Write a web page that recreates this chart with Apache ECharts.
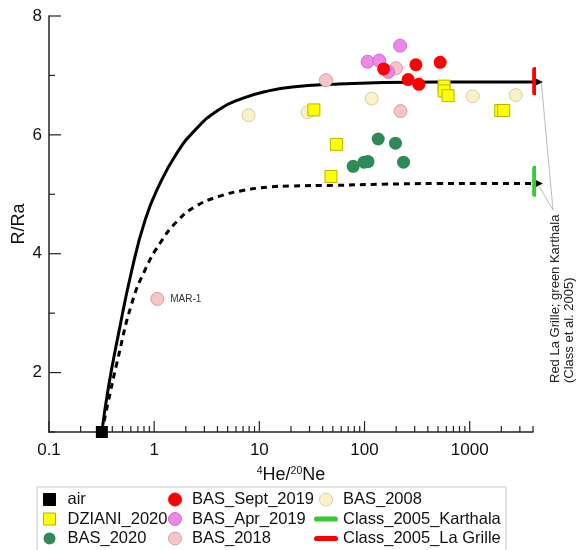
<!DOCTYPE html>
<html>
<head>
<meta charset="utf-8">
<script src="https://cdn.jsdelivr.net/npm/echarts@6/dist/echarts.min.js"></script>
<style>
html, body { margin: 0; padding: 0; background: #fff; }
#main { width: 576px; height: 550px; }
</style>
</head>
<body>
<div id="main"></div>
<script>
// values (x = 4He/20Ne, y = R/Ra)
var air = [[0.318, 1]];
var dziani2020 = [[33, 6.42], [54, 5.84], [48, 5.3], [571, 6.82], [571, 6.74], [623, 6.66], [1973, 6.41], [2108, 6.41]];
var bas2020 = [[135, 5.93], [197, 5.86], [78, 5.47], [99, 5.54], [108, 5.55], [235, 5.54]];
var basSept2019 = [[152, 7.11], [308, 7.18], [524, 7.22], [260, 6.93], [329, 6.85]];
var basApr2019 = [[218, 7.5], [107, 7.23], [138, 7.25], [168, 7.06]];
var bas2018 = [[43, 6.92], [199, 7.12], [220, 6.4]];
var mar1 = [1.07, 3.24];
var bas2008 = [[7.9, 6.33], [28.8, 6.38], [117, 6.61], [1070, 6.65], [2740, 6.67]];

// mixing curves
var solidX = [0.318, 0.368, 0.452, 0.614, 0.821, 1.10, 1.64, 2.45, 4.08, 6.81, 12.2, 21.8, 50, 150, 500, 1500, 4500];
var solidY = [1, 1.76, 2.60, 3.73, 4.57, 5.13, 5.69, 6.08, 6.42, 6.61, 6.74, 6.81, 6.85, 6.88, 6.89, 6.89, 6.89];
var dashX = [0.318, 0.363, 0.442, 0.614, 0.821, 1.14, 1.64, 2.45, 4.08, 6.81, 12.2, 20.3, 50, 150, 500, 1500, 4500];
var dashY = [1, 1.48, 2.16, 3.17, 3.73, 4.18, 4.54, 4.79, 4.96, 5.06, 5.12, 5.14, 5.15, 5.17, 5.18, 5.18, 5.18];

// Class et al. 2005 ranges
var classX = 4150;
var karthala = [5.0, 5.44];
var laGrille = [6.71, 7.10];

// axis ticks
var xMajor = [0.1, 1, 10, 100, 1000];
var xMinor = [0.2, 0.3, 0.4, 0.5, 0.6, 0.7, 0.8, 0.9, 2, 3, 4, 5, 6, 7, 8, 9, 20, 30, 40, 50, 60, 70, 80, 90,
	200, 300, 400, 500, 600, 700, 800, 900, 2000, 3000, 4000];
var yMajor = [2, 4, 6, 8];
var yMinor = [1, 3, 5, 7];

var FONT = 'Arial, "Liberation Sans", sans-serif';
var LINE_ICON = 'path://M2.5,0L20.5,0A2.5,2.5,0,0,1,20.5,5L2.5,5A2.5,2.5,0,0,1,2.5,0Z';
var myChart = echarts.init(document.getElementById('main'));

function curve(xs, ys) {
	var out = [];
	for (var i = 0; i < xs.length; i++) {
		if (i == xs.length - 1) {
			out.push({ value: [xs[i], ys[i]], symbol: 'triangle', symbolRotate: -90, symbolSize: 9 });
		} else {
			out.push([xs[i], ys[i]]);
		}
	}
	return out;
}

function scatter(name, data, symbol, size, color, border, z) {
	return {
		name: name,
		type: 'scatter',
		data: data,
		symbol: symbol,
		symbolSize: size,
		z: z,
		itemStyle: {
			color: color,
			borderColor: border || color,
			borderWidth: border ? 1 : 0,
			opacity: 1
		}
	};
}

// draws one tick: [x, y, horizontal?, length]
function renderTick(params, api) {
	var p = api.coord([api.value(0), api.value(1)]);
	var horiz = api.value(2) == 1;
	var l = api.value(3);
	return {
		type: 'line',
		shape: horiz ? { x1: p[0], y1: p[1], x2: p[0] + l, y2: p[1] } : { x1: p[0], y1: p[1], x2: p[0], y2: p[1] - l },
		style: { stroke: '#222', lineWidth: 1.2 }
	};
}

var tickData = [];
xMajor.forEach(function(v) { tickData.push([v, 1, 0, 11]); });
xMinor.forEach(function(v) { tickData.push([v, 1, 0, 6]); });
yMajor.forEach(function(v) { tickData.push([0.1, v, 1, 12]); });
yMinor.forEach(function(v) { tickData.push([0.1, v, 1, 6]); });

var bas2018All = bas2018.slice();
bas2018All.push({
	value: mar1,
	label: { show: true, formatter: 'MAR-1', position: 'right', distance: 6, fontSize: 10, color: '#333', fontFamily: FONT }
});

var legendText = { fontSize: 16.5, color: '#111', lineHeight: 17, fontFamily: FONT };

var option = {
	animation: false,
	textStyle: { fontFamily: FONT },
	grid: { left: 49, right: 43, top: 16, bottom: 118, outerBoundsMode: 'none', containLabel: false },
	xAxis: {
		type: 'log',
		logBase: 10,
		min: 0.1,
		max: 4000,
		name: '{s|4}He/{s|20}Ne',
		nameLocation: 'middle',
		nameGap: 34,
		nameMoveOverlap: false,
		nameTextStyle: {
			fontSize: 18, color: '#111', fontFamily: FONT,
			rich: { s: { fontSize: 10.5, verticalAlign: 'top', padding: [0, 0, 7, 0], fontFamily: FONT, color: '#111' } }
		},
		axisLine: { show: true, lineStyle: { color: '#222', width: 1.5 } },
		axisTick: { show: false },
		splitLine: { show: false },
		axisLabel: {
			fontSize: 17, color: '#111', margin: 10, showMaxLabel: false,
			formatter: function(v) {
				for (var i = 0; i < xMajor.length; i++) {
					if (Math.abs(v - xMajor[i]) / xMajor[i] < 1e-6) return String(xMajor[i]);
				}
				return '';
			}
		}
	},
	yAxis: {
		type: 'value',
		min: 1,
		max: 8,
		interval: 1,
		name: 'R/Ra',
		nameLocation: 'middle',
		nameGap: 21,
		nameMoveOverlap: false,
		nameTextStyle: { fontSize: 18, color: '#111', fontFamily: FONT },
		axisLine: { show: true, lineStyle: { color: '#222', width: 1.5 } },
		axisTick: { show: false },
		splitLine: { show: false },
		axisLabel: {
			fontSize: 17, color: '#111', margin: 7,
			formatter: function(v) { return yMajor.indexOf(v) >= 0 ? String(v) : ''; }
		}
	},
	legend: [{
		orient: 'vertical', left: 43, top: 491, padding: 0,
		itemWidth: 12, itemHeight: 12, itemGap: 2.5,
		itemStyle: { borderWidth: 1 },
		textStyle: { fontSize: 16.5, color: '#111', lineHeight: 17, fontFamily: FONT, padding: [0, 0, 0, 7] },
		data: ['air', 'DZIANI_2020', { name: 'BAS_2020', itemStyle: { borderWidth: 0 } }]
	}, {
		orient: 'vertical', left: 168, top: 491, padding: 0,
		itemWidth: 24, itemHeight: 13, itemGap: 2.5,
		itemStyle: { borderWidth: 1 },
		textStyle: legendText,
		data: ['BAS_Sept_2019', 'BAS_Apr_2019', 'BAS_2018']
	}, {
		orient: 'vertical', left: 314, top: 491, padding: 0,
		itemWidth: 24, itemHeight: 13, itemGap: 2.5,
		itemStyle: { borderWidth: 0 },
		textStyle: legendText,
		data: [{ name: 'BAS_2008', itemStyle: { borderWidth: 1 } },
			{ name: 'Class_2005_Karthala', icon: LINE_ICON },
			{ name: 'Class_2005_La Grille', icon: LINE_ICON }]
	}],
	series: [{
		name: 'ticks',
		type: 'custom',
		renderItem: renderTick,
		data: tickData,
		clip: false,
		silent: true,
		z: 1
	}, {
		name: 'mix_solid',
		type: 'line',
		data: curve(solidX, solidY),
		symbol: 'none',
		smooth: 0.5,
		clip: false,
		z: 2,
		lineStyle: { color: '#000', width: 3 },
		itemStyle: { color: '#000' }
	}, {
		name: 'mix_dash',
		type: 'line',
		data: curve(dashX, dashY),
		symbol: 'none',
		smooth: 0.5,
		clip: false,
		z: 2,
		lineStyle: { color: '#000', width: 3, type: [6, 5] },
		itemStyle: { color: '#000' }
	}, {
		name: 'Class_2005_Karthala',
		type: 'line',
		data: [[classX, karthala[0]], [classX, karthala[1]]],
		symbol: 'none',
		clip: false,
		z: 3,
		lineStyle: { color: '#33CC33', width: 5, cap: 'round' },
		itemStyle: { color: '#33CC33' }
	}, {
		name: 'Class_2005_La Grille',
		type: 'line',
		data: [[classX, laGrille[0]], [classX, laGrille[1]]],
		symbol: 'none',
		clip: false,
		z: 3,
		lineStyle: { color: '#FF0000', width: 5, cap: 'round' },
		itemStyle: { color: '#FF0000' }
	},
	scatter('BAS_2008', bas2008, 'circle', 13, '#FBF1C7', '#D8CDA2', 4),
	scatter('BAS_2018', bas2018All, 'circle', 13, '#F9C4C4', '#C9A3A3', 4),
	scatter('BAS_Apr_2019', basApr2019, 'circle', 13, '#EE88E8', '#CC70C4', 4),
	scatter('BAS_Sept_2019', basSept2019, 'circle', 13, '#FF0000', null, 5),
	scatter('BAS_2020', bas2020, 'circle', 13, '#2E8B57', null, 5),
	scatter('DZIANI_2020', dziani2020, 'rect', 12, '#FFFF00', '#B5B500', 6),
	scatter('air', air, 'rect', 12, '#000', null, 7)
	]
};
myChart.setOption(option);

// annotation text + leader lines to the curve ends
var tipA = myChart.convertToPixel({ gridIndex: 0 }, [solidX[solidX.length - 1], solidY[solidY.length - 1]]);
var tipB = myChart.convertToPixel({ gridIndex: 0 }, [dashX[dashX.length - 1], dashY[dashY.length - 1]]);
myChart.setOption({
	graphic: [{
		type: 'rect',
		shape: { x: 37, y: 487, width: 469, height: 80 },
		style: { fill: 'none', stroke: '#c8c8c8', lineWidth: 1 },
		silent: true
	}, {
		type: 'line',
		shape: { x1: tipA[0] + 3, y1: tipA[1] + 1, x2: 553, y2: 210 },
		style: { stroke: '#aaa', lineWidth: 0.8 }
	}, {
		type: 'line',
		shape: { x1: tipB[0] + 1, y1: tipB[1] + 3, x2: 553, y2: 210 },
		style: { stroke: '#aaa', lineWidth: 0.8 }
	}, {
		type: 'text',
		x: 548,
		y: 383,
		rotation: Math.PI / 2,
		style: {
			text: 'Red La Grille; green Karthala\n(Class et al. 2005)',
			font: '13px ' + FONT,
			fill: '#222',
			textAlign: 'left',
			textVerticalAlign: 'top',
			lineHeight: 14
		}
	}]
});
</script>
</body>
</html>
